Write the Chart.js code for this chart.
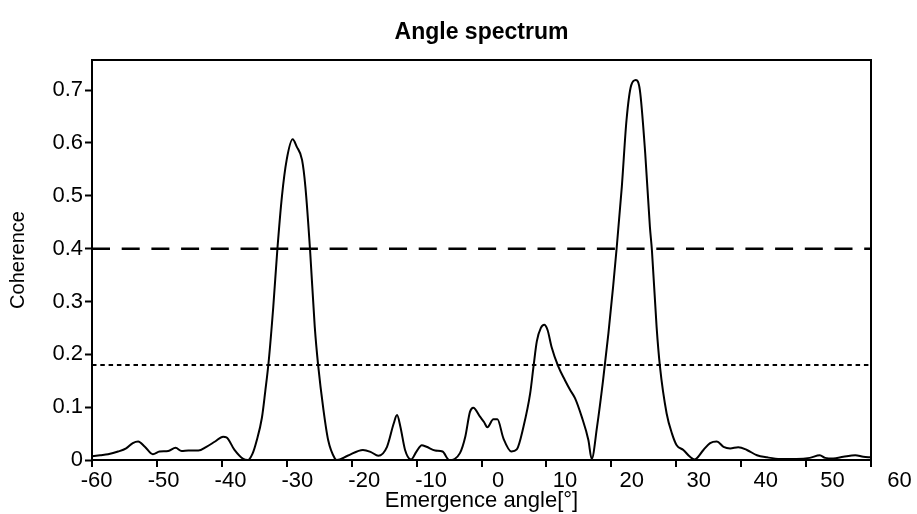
<!DOCTYPE html>
<html>
<head>
<meta charset="utf-8">
<title>Angle spectrum</title>
<script src="https://cdn.jsdelivr.net/npm/chart.js@4.4.1/dist/chart.umd.min.js"></script>
<style>
  html, body { margin: 0; padding: 0; background: #fff; }
</style>
</head>
<body>
<canvas id="angleChart" width="917" height="514"></canvas>
<script>
// values: emergence angle (deg) and coherence
const angleDeg = [
  -60.7, -59.5, -58.3, -56.8, -55.6, -54.6, -53.8, -52.8, -51.6, -50.6,
  -49.3, -48.2, -47.3, -46.3, -44.8, -43.6, -42.3, -41.1, -40.6, -39.4,
  -38.1, -37.4, -36.7, -36.1, -35.3, -34.8, -34.3, -33.6, -33.0, -32.3,
  -31.6, -30.7, -30.1, -29.3, -28.8, -28.1, -27.4, -26.9, -26.1, -25.4,
  -24.4, -24.1, -22.5, -20.2, -19.0, -17.9, -16.6, -15.6, -15.1, -14.6,
  -13.9, -13.0, -12.2, -11.4, -10.7, -9.4, -8.3, -7.3, -5.7, -4.9,
  -4.2, -3.7, -2.7, -2.1, -1.6, -0.7, -0.1, 0.8, 2.0, 2.8,
  3.8, 4.8, 5.3, 5.8, 6.4, 6.9, 7.4, 8.0, 9.0, 10.0, 10.8,
  11.5, 12.5, 13.5, 14.0, 14.8, 15.7, 16.5, 17.2, 17.7, 18.5,
  19.2, 19.9, 20.6, 21.2, 22.0, 22.7, 23.0, 23.7, 24.2, 25.2,
  26.0, 26.7, 27.7, 28.7, 29.4, 30.7, 31.7, 32.7, 33.7, 34.7,
  35.9, 37.2, 38.7, 40.2, 42.2, 44.6, 46.6, 48.1, 48.9, 50.1,
  51.6, 53.4, 54.6, 55.75
];
const coherence = [
  0.007, 0.009, 0.011, 0.016, 0.022, 0.032, 0.035, 0.025, 0.011, 0.016,
  0.017, 0.023, 0.017, 0.018, 0.018, 0.025, 0.035, 0.044, 0.043, 0.019,
  0.002, 0.000, 0.012, 0.036, 0.080, 0.130, 0.185, 0.290, 0.397, 0.500,
  0.568, 0.607, 0.593, 0.568, 0.517, 0.397, 0.252, 0.180, 0.095, 0.038,
  0.003, 0.000, 0.008, 0.019, 0.015, 0.008, 0.025, 0.069, 0.085, 0.063,
  0.019, 0.001, 0.016, 0.028, 0.025, 0.018, 0.016, 0.000, 0.013, 0.044,
  0.091, 0.099, 0.082, 0.072, 0.062, 0.077, 0.077, 0.041, 0.016, 0.020,
  0.063, 0.126, 0.177, 0.225, 0.250, 0.256, 0.246, 0.214, 0.177, 0.151, 0.132,
  0.117, 0.082, 0.038, 0.002, 0.063, 0.151, 0.240, 0.328, 0.397, 0.517,
  0.643, 0.709, 0.719, 0.700, 0.580, 0.441, 0.397, 0.252, 0.177, 0.088,
  0.050, 0.028, 0.019, 0.006, 0.001, 0.019, 0.032, 0.035, 0.025, 0.022,
  0.024, 0.019, 0.009, 0.005, 0.002, 0.002, 0.004, 0.009, 0.004, 0.003,
  0.006, 0.009, 0.006, 0.005
];
const thresholdHigh = 0.4;   // long-dash line
const thresholdLow = 0.18;   // short-dash line
const xTickValues = [-60, -50, -40, -30, -20, -10, 0, 10, 20, 30, 40, 50, 60];
const yTickValues = [0, 0.1, 0.2, 0.3, 0.4, 0.5, 0.6, 0.7];
const xRange = [-60.7, 55.75];
const yRange = [0, 0.757];

const FONT = 'Liberation Sans, Arial, sans-serif';
Chart.defaults.color = '#000';
Chart.defaults.font.family = FONT;

const spectrum = angleDeg.map((a, i) => ({ x: a, y: coherence[i] }));
const lineAt = (v) => [{ x: xRange[0], y: v }, { x: xRange[1], y: v }];

// box round the plot, plus the x tick marks (their own scale, -60..60)
const frameAndTicks = {
  id: 'frameAndTicks',
  afterDraw(chart) {
    const { ctx, chartArea: a } = chart;
    const xt = chart.scales.xTicks;
    ctx.save();
    ctx.strokeStyle = '#000';
    ctx.lineWidth = 2;
    ctx.strokeRect(a.left, a.top, a.right - a.left, a.bottom - a.top);
    ctx.beginPath();
    xTickValues.forEach(v => {
      const px = Math.round(xt.getPixelForValue(v));
      ctx.moveTo(px, a.bottom);
      ctx.lineTo(px, a.bottom + 7);
    });
    ctx.stroke();
    ctx.restore();
  }
};

new Chart(document.getElementById('angleChart'), {
  type: 'line',
  data: {
    datasets: [
      {
        label: 'Coherence',
        data: spectrum,
        borderColor: '#000',
        borderWidth: 2,
        pointRadius: 0,
        cubicInterpolationMode: 'monotone',
        fill: false
      },
      {
        label: 'threshold 0.4',
        data: lineAt(thresholdHigh),
        borderColor: '#000',
        borderWidth: 2.5,
        borderDash: [18, 11.7],
        pointRadius: 0,
        fill: false
      },
      {
        label: 'threshold 0.18',
        data: lineAt(thresholdLow),
        borderColor: '#000',
        borderWidth: 2,
        borderDash: [4.5, 3.8],
        pointRadius: 0,
        fill: false
      }
    ]
  },
  options: {
    responsive: false,
    animation: false,
    layout: { padding: { left: 0, right: 46, top: 0, bottom: 0 } },
    scales: {
      x: {
        type: 'linear',
        min: xRange[0],
        max: xRange[1],
        grid: { display: false },
        border: { display: false },
        afterBuildTicks: (s) => { s.ticks = xTickValues.map(v => ({ value: v })); },
        afterFit: (s) => { s.height = 54; },
        ticks: {
          autoSkip: false,
          maxRotation: 0,
          padding: 0,
          font: { size: 22 },
          callback: (v) => String(v)
        },
        title: {
          display: true,
          text: 'Emergence angle[°]',
          font: { size: 22 },
          padding: { top: 0, bottom: 0 }
        }
      },
      xTicks: {
        type: 'linear',
        axis: 'x',
        display: false,
        min: -60,
        max: 60
      },
      y: {
        min: yRange[0],
        max: yRange[1],
        afterBuildTicks: (s) => { s.ticks = yTickValues.map(v => ({ value: v })); },
        afterFit: (s) => { s.width = 92; },
        grid: {
          drawOnChartArea: false,
          tickLength: 7,
          tickWidth: 2,
          tickColor: '#000'
        },
        border: { display: false },
        ticks: {
          padding: 2,
          font: { size: 22 },
          callback: (v) => String(v)
        },
        title: {
          display: true,
          text: 'Coherence',
          font: { size: 20 },
          padding: { top: 6, bottom: 0 }
        }
      }
    },
    plugins: {
      legend: { display: false },
      tooltip: { enabled: false },
      title: {
        display: true,
        text: 'Angle spectrum',
        fullSize: false,
        font: { size: 23, weight: 'bold' },
        padding: { top: 19, bottom: 13.4 }
      }
    }
  },
  plugins: [frameAndTicks]
});
</script>
</body>
</html>
